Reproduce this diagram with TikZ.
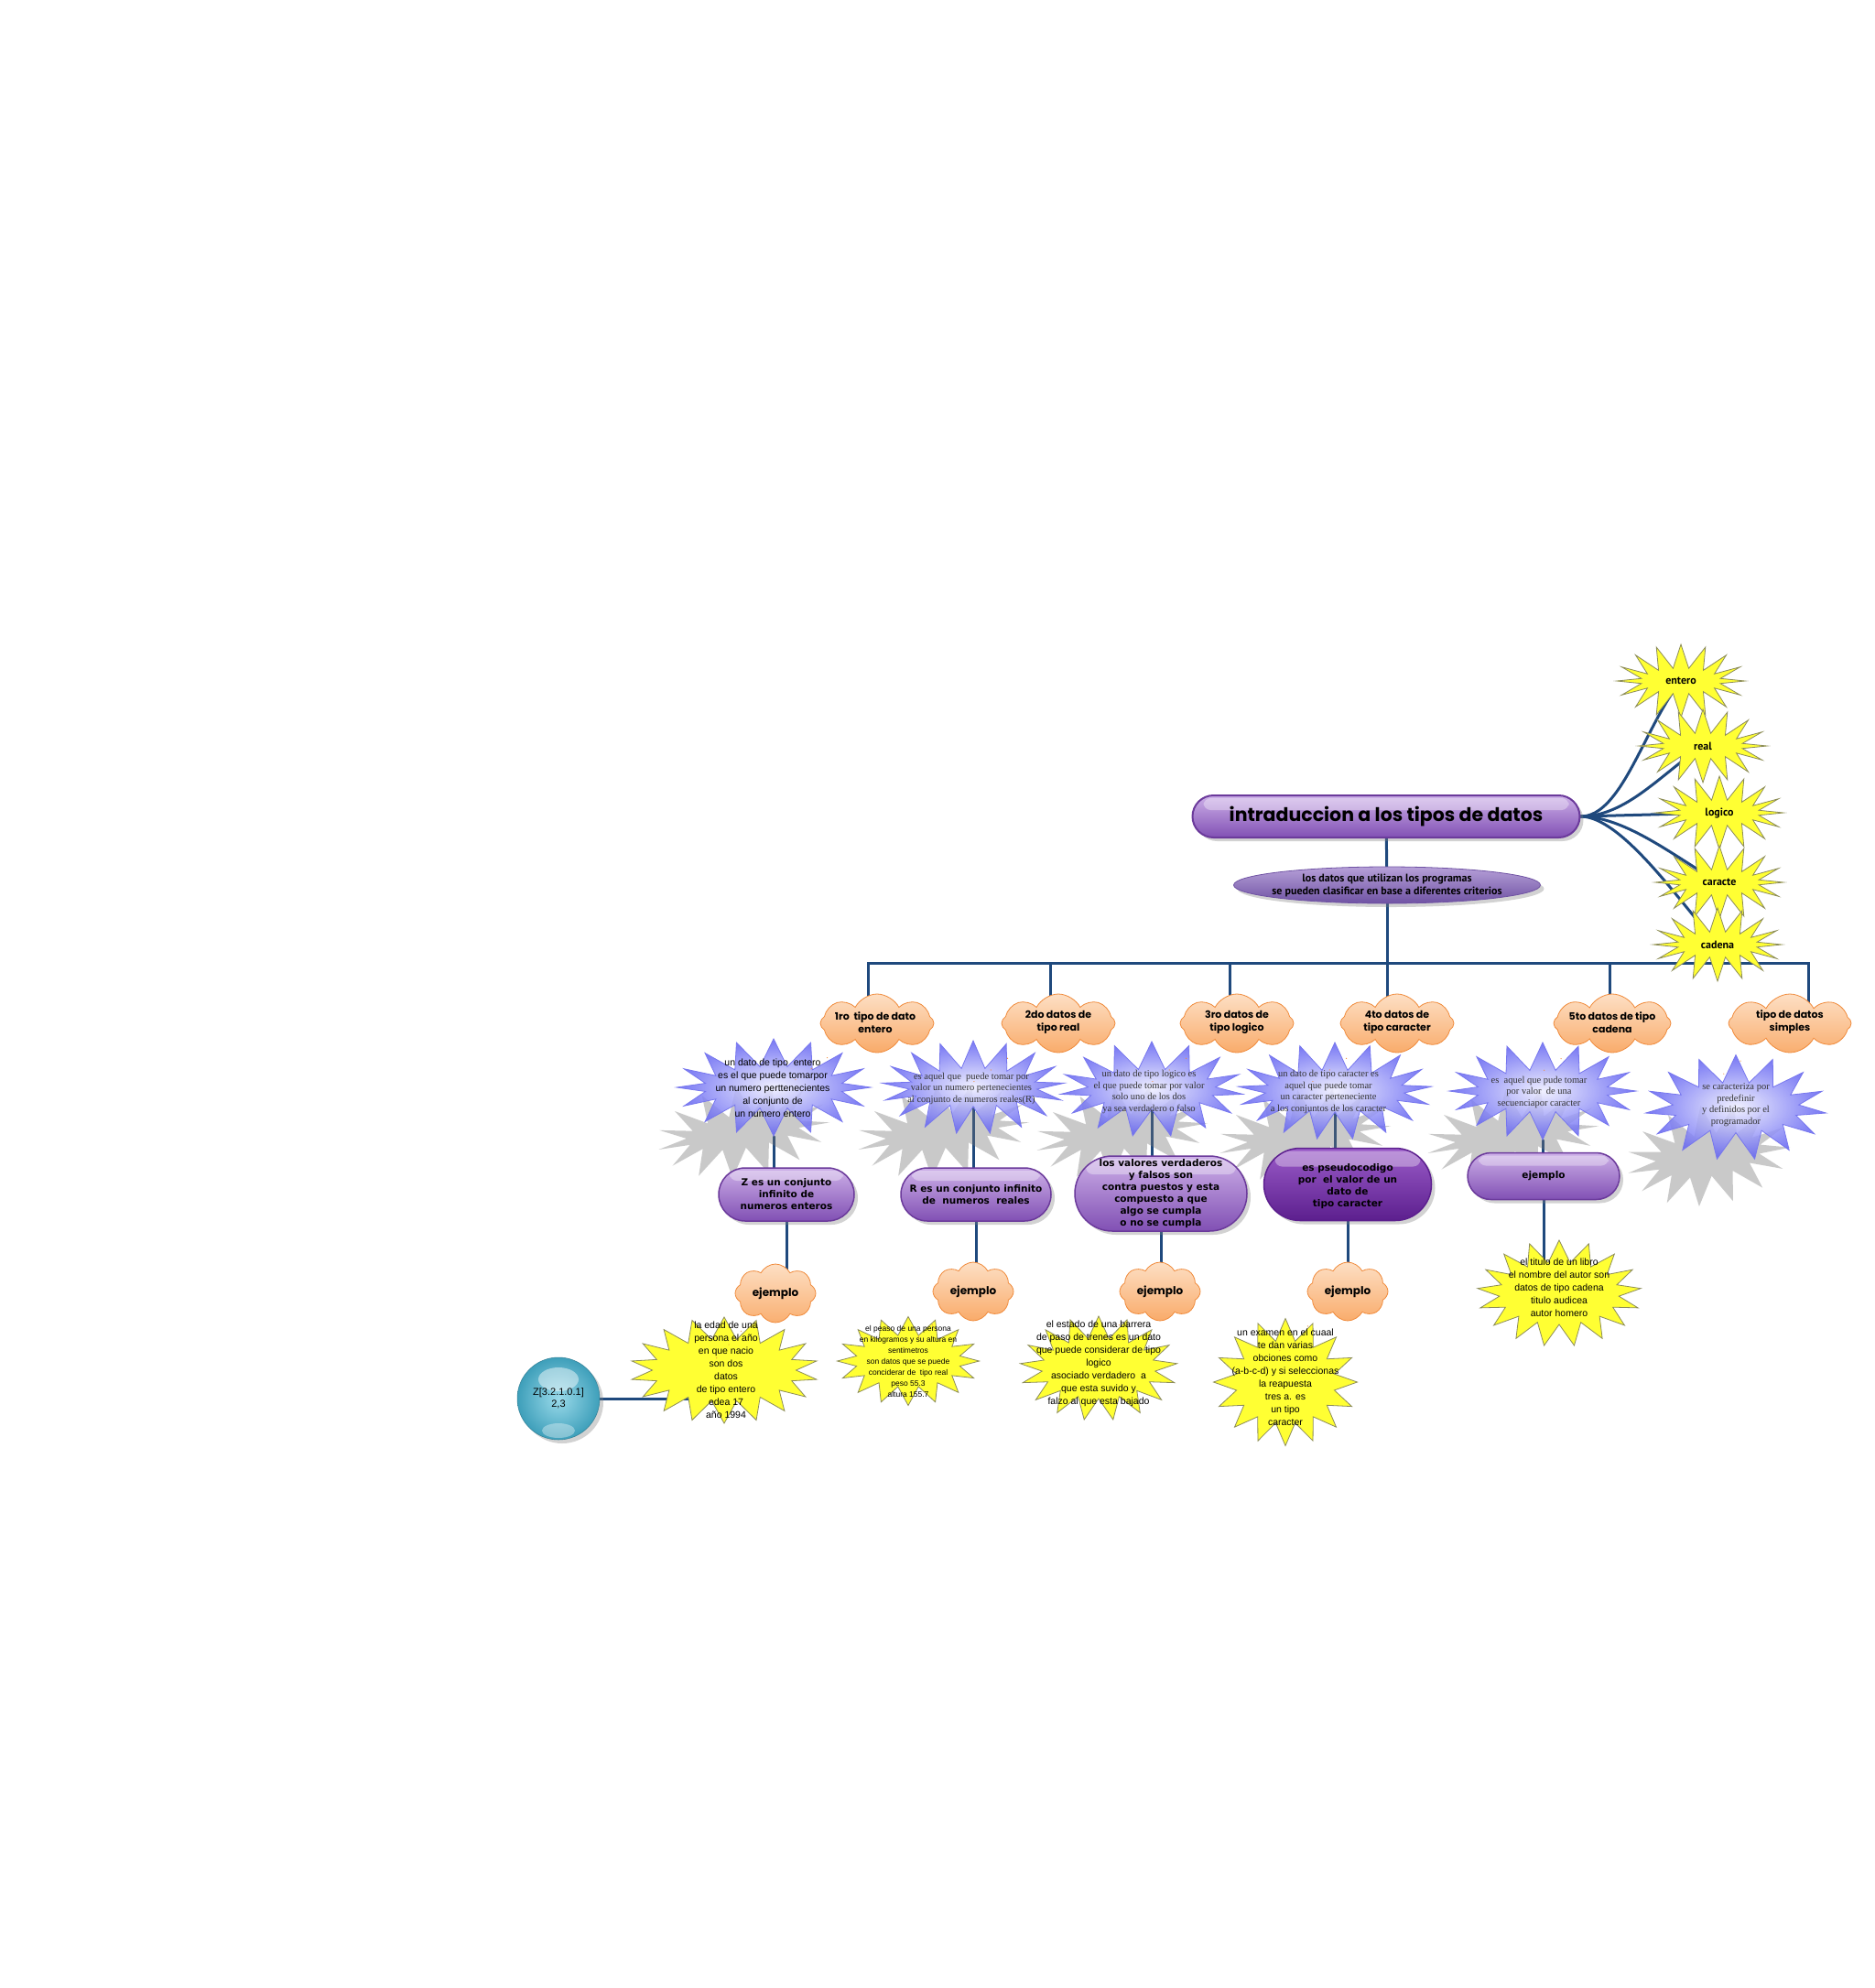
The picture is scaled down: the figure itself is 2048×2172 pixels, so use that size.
\documentclass[tikz,border=0pt]{standalone}
\usepackage{fontspec}
\newfontfamily\popf{Poppins}
\newfontfamily\dvf{DejaVu Sans}
\newfontfamily\ptf{PT Sans}
\newfontfamily\arf{Liberation Sans}
\newfontfamily\sef{Liberation Serif}
\usetikzlibrary{shapes.symbols,shapes.callouts,shapes.misc,shapes.geometric,shadows,backgrounds}
\definecolor{linkc}{HTML}{1F497D}
\definecolor{ystarc}{HTML}{FFFF33}
\definecolor{yborder}{HTML}{8C8C5A}
\definecolor{ctop}{HTML}{FDDFC4}
\definecolor{cbot}{HTML}{F7923F}
\definecolor{cborder}{HTML}{F08A3A}
\definecolor{bin}{HTML}{EEEEFF}
\definecolor{bout}{HTML}{5F5FF2}
\definecolor{bborder}{HTML}{7777EE}
\definecolor{ptop}{HTML}{CDB0E8}
\definecolor{pbot}{HTML}{8150B4}
\definecolor{pborder}{HTML}{6B3A9B}
\definecolor{pdtop}{HTML}{9B5CC9}
\definecolor{pdbot}{HTML}{5C1F8E}
\definecolor{etop}{HTML}{B6A0D8}
\definecolor{ebot}{HTML}{6F52A3}
\definecolor{sphin}{HTML}{9ADAEA}
\definecolor{sphout}{HTML}{3E9FBA}
\tikzset{
  link/.style={draw=linkc, line width=3pt, line cap=round},
  txt/.style={align=center, inner sep=0pt, text=black},
  gloss/.style={path picture={\fill[white,opacity=0.35,rounded corners=8pt]
     ([xshift=12pt,yshift=-3pt]path picture bounding box.north west) rectangle
     ([xshift=-12pt,yshift=-#1]path picture bounding box.north east);}},
  gloss/.default=14pt,
  myshadow/.style={drop shadow={opacity=0.35,shadow xshift=4pt,shadow yshift=-4pt}},
  titlebox/.style={rounded rectangle, minimum width=423pt, minimum height=46pt, inner sep=0pt,
     top color=ptop, bottom color=pbot, draw=pborder, line width=2pt, myshadow, gloss=16pt},
  pbox/.style={rounded rectangle, inner sep=0pt, top color=ptop, bottom color=pbot,
     draw=pborder, line width=1.5pt, myshadow, gloss},
  pdbox/.style={rounded rectangle, inner sep=0pt, top color=pdtop, bottom color=pdbot,
     draw=pdbot, line width=1.5pt, myshadow, gloss=20pt},
  ellbox/.style={ellipse, minimum width=335pt, minimum height=40pt, inner sep=0pt,
     top color=etop, bottom color=ebot, draw=ebot, line width=0.8pt, myshadow},
  ystar/.style={starburst, fill=ystarc, draw=yborder, line width=0.8pt, random starburst=0,
     starburst points=17, starburst point height=24pt, inner sep=0pt},
  rstar/.style={starburst, fill=ystarc, draw=yborder, line width=0.8pt, random starburst=0,
     starburst points=16, starburst point height=26pt, inner sep=0pt,
     minimum width=140pt, minimum height=80pt, font=\ptf\bfseries\fontsize{12}{14}\selectfont},
  bstar/.style={starburst, inner color=bin, outer color=bout, draw=bborder, line width=0.8pt,
     random starburst=0, starburst points=16, starburst point height=30pt, inner sep=0pt, fill opacity=0.85},
  bshad/.style={starburst, fill=black!55, fill opacity=0.38, draw=none, random starburst=0,
     starburst points=15, starburst point height=32pt, inner sep=0pt, rotate=9},
  ocloud/.style={cloud callout, cloud puffs=8, cloud puff arc=125, cloud ignores aspect,
     inner sep=0pt, top color=ctop, bottom color=cbot, draw=cborder, line width=0.8pt,
     callout pointer start size=.15, callout pointer end size=.07, callout pointer segments=3},
  ttitle/.style={txt, font=\popf\bfseries\fontsize{20.5}{24}\selectfont},
  tcloud/.style={txt, font=\popf\bfseries\fontsize{11}{14}\selectfont},
  tejem/.style={txt, font=\popf\bfseries\fontsize{12}{14}\selectfont},
  tbox/.style={txt, font=\dvf\bfseries\fontsize{10.5}{13}\selectfont},
  tell/.style={txt, font=\ptf\bfseries\fontsize{12}{14}\selectfont},
  tserif/.style={txt, text=black!80, font=\sef\fontsize{10.5}{12.5}\selectfont},
  tsans/.style={txt, font=\arf\fontsize{10.5}{14}\selectfont},
  tyel/.style={txt, font=\arf\fontsize{10.5}{14}\selectfont},
}
\begin{document}
\begin{tikzpicture}[x=1pt,y=-1pt]
\begin{scope}[on background layer]
  \fill[white] (0,0) rectangle (2048,2172);
\end{scope}
\useasboundingbox (0,0) rectangle (2048,2172);

% right stars
\node[rstar] (s1) at (1836,744) {entero};
\node[rstar] (s2) at (1860,815) {real};
\node[rstar] (s3) at (1878,888) {logico};
\node[rstar] (s4) at (1878,964) {caracte};
\node[rstar] (s5) at (1876,1032) {cadena};

% title and subtitle
\node[titlebox] (title) at (1514,892) {};
\node[ttitle] (titlet) at (title) {intraduccion a los tipos de datos};
\node[ellbox] (ell) at (1515,967) {};
\node[tell] (ellt) at (ell) {los datos que utilizan los programas\\se pueden clasificar en base a diferentes criterios};
\coordinate (bus) at (1515,1052);

% blue star shadows
\node[bshad, minimum width=190pt, minimum height=100pt] (b1s) at (812,1236) {};
\node[bshad, minimum width=190pt, minimum height=100pt] (b2s) at (1030,1236) {};
\node[bshad, minimum width=190pt, minimum height=100pt] (b3s) at (1225,1237) {};
\node[bshad, minimum width=190pt, minimum height=100pt] (b4s) at (1425,1240) {};
\node[bshad, minimum width=190pt, minimum height=100pt] (b5s) at (1652,1240) {};
\node[bshad, minimum width=180pt, minimum height=110pt] (b6s) at (1866,1262) {};

% blue stars
\node[bstar, minimum width=212pt, minimum height=106pt] (b1) at (845,1188) {};
\node[bstar, minimum width=200pt, minimum height=102pt, starburst points=17] (b2) at (1063,1188) {};
\node[bstar, minimum width=200pt, minimum height=104pt, starburst points=15] (b3) at (1258,1190) {};
\node[bstar, minimum width=212pt, minimum height=106pt, starburst points=17] (b4) at (1458,1192) {};
\node[bstar, minimum width=204pt, minimum height=106pt] (b5) at (1685,1192) {};
\node[bstar, minimum width=198pt, minimum height=115pt, starburst points=15] (b6) at (1896,1210) {};

% purple boxes
\node[pbox, minimum width=148pt, minimum height=58pt] (p1) at (859,1305) {};
\node[pbox, minimum width=164pt, minimum height=58pt] (p2) at (1066,1305) {};
\node[pbox, minimum width=188pt, minimum height=82pt, gloss=20pt] (p3) at (1268,1304) {};
\node[pdbox, minimum width=183pt, minimum height=79pt] (p4) at (1472,1294) {};
\node[pbox, minimum width=166pt, minimum height=51pt] (p5) at (1686,1285) {};

% top clouds
\node[ocloud, minimum width=124pt, minimum height=64pt, callout relative pointer={(-52pt,-36pt)}] (c1) at (958,1118) {};
\node[ocloud, minimum width=124pt, minimum height=64pt, callout relative pointer={(-55pt,-38pt)}] (c2) at (1156,1118) {};
\node[ocloud, minimum width=124pt, minimum height=64pt, callout relative pointer={(-55pt,-38pt)}] (c3) at (1351,1118) {};
\node[ocloud, minimum width=124pt, minimum height=64pt, callout relative pointer={(-55pt,-38pt)}] (c4) at (1526,1118) {};
\node[ocloud, minimum width=128pt, minimum height=64pt, callout relative pointer={(-55pt,-38pt)}] (c5) at (1761,1118) {};
\node[ocloud, minimum width=134pt, minimum height=64pt, callout relative pointer={(-55pt,-42pt)}] (c6) at (1955,1118) {};

% yellow example stars
\node[ystar, minimum width=205pt, minimum height=116pt, starburst points=18] (y1) at (791,1497) {};
\node[ystar, minimum width=155pt, minimum height=97pt, starburst point height=20pt, starburst points=16] (y2) at (992,1487) {};
\node[ystar, minimum width=172pt, minimum height=114pt] (y3) at (1200,1495) {};
\node[ystar, minimum width=157pt, minimum height=139pt, starburst points=16] (y4) at (1404,1510) {};
\node[ystar, minimum width=179pt, minimum height=116pt] (y5) at (1703,1413) {};

% ejemplo clouds
\node[ocloud, minimum width=88pt, minimum height=64pt, callout relative pointer={(-40pt,-44pt)}] (e1) at (847,1413) {};
\node[ocloud, minimum width=88pt, minimum height=64pt, callout relative pointer={(-46pt,-38pt)}] (e2) at (1063,1411) {};
\node[ocloud, minimum width=88pt, minimum height=64pt, callout relative pointer={(-46pt,-38pt)}] (e3) at (1267,1411) {};
\node[ocloud, minimum width=88pt, minimum height=64pt, callout relative pointer={(-46pt,-40pt)}] (e4) at (1472,1411) {};

% sphere
\node[circle, inner color=sphin, outer color=sphout, draw=sphout!80!black, line width=0.5pt,
      minimum size=90pt, inner sep=0pt, myshadow, align=center,
      path picture={\fill[white,opacity=0.45] ([yshift=-24pt]path picture bounding box.north) ellipse (22pt and 13pt);
                    \fill[white,opacity=0.35] ([yshift=10pt]path picture bounding box.south) ellipse (18pt and 8pt);},
      font=\arf\fontsize{11}{13}\selectfont] (sph) at (610,1528) {Z[3.2.1.0.1]\\2,3};

% texts
\node[tcloud] (c1t) at (956,1117) {1ro\ \ tipo de dato\\entero};
\node[tcloud] (c2t) at (1156,1117) {2do datos de\\tipo real};
\node[tcloud] (c3t) at (1351,1117) {3ro datos de\\tipo logico};
\node[tcloud] (c4t) at (1526,1117) {4to datos de\\tipo caracter};
\node[tcloud] (c5t) at (1761,1117) {5to datos de tipo\\cadena};
\node[tcloud] (c6t) at (1955,1117) {tipo de datos\\simples};

\node[tsans] (b1t) at (844,1189) {un dato de tipo\ \ entero\\es el que puede tomarpor\\un numero perttenecientes\\al conjunto de\\un numero entero};
\node[tserif] (b2t) at (1061,1189) {es aquel que\ \ puede tomar por\\valor un numero pertenecientes\\al conjunto de numeros reales(R)};
\node[tserif] (b3t) at (1255,1193) {un dato de tipo logico es\\el que puede tomar por valor\\solo uno de los dos\\ya sea verdadero o falso};
\node[tserif] (b4t) at (1451,1193) {un dato de tipo caracter es\\aquel que puede tomar\\un caracter perteneciente\\a los conjuntos de los caracter};
\node[tserif] (b5t) at (1681,1193) {es\ \ aquel que pude tomar\\por valor\ \ de una\\secuenciapor caracter};
\node[tserif] (b6t) at (1896,1207) {se caracteriza por\\predefinir\\y definidos por el\\programador};

\node[tbox] (p1t) at (p1) {Z es un conjunto\\infinito de\\numeros enteros};
\node[tbox] (p2t) at (p2) {R es un conjunto infinito\\de\ \ numeros\ \ reales};
\node[tbox] (p3t) at (p3) {los valores verdaderos\\y falsos son\\contra puestos y esta\\compuesto a que\\algo se cumpla\\o no se cumpla};
\node[tbox] (p4t) at (1472,1296) {es pseudocodigo\\por\ \ el valor de un\\dato de\\tipo caracter};
\node[tbox] (p5t) at (p5) {ejemplo};

\node[tejem] (e1t) at (e1) {ejemplo};
\node[tejem] (e2t) at (e2) {ejemplo};
\node[tejem] (e3t) at (e3) {ejemplo};
\node[tejem] (e4t) at (e4) {ejemplo};

\node[tyel] (y1t) at (793,1497) {la edad de una\\persona el año\\en que nacio\\son dos\\datos\\de tipo entero\\edea 17\\año 1994};
\node[txt, font=\arf\fontsize{8.5}{12}\selectfont] (y2t) at (992,1487) {el peaso de una persona\\en kilogramos y su altura en\\sentimetros\\son datos que se puede\\conciderar de\ \ tipo real\\peso 55.3\\altura 155.7};
\node[tyel] (y3t) at (1200,1490) {el estado de una barrera\\de paso de trenes es un dato\\que puede considerar de tipo\\logico\\asociado verdadero\ \ a\\que esta suvido y\\falzo al que esta bajado};
\node[tyel] (y4t) at (1404,1505) {un examen en el cuaal\\te dan varias\\obciones como\\(a-b-c-d) y si seleccionas\\la reapuesta\\tres a. es\\un tipo\\caracter};
\node[tyel] (y5t) at (1703,1407) {el titulo de un libro\\el nombre del autor son\\datos de tipo cadena\\titulo audicea\\autor homero};

% connectors
\begin{scope}[on background layer]
  \draw[link] (title) -- (ell);
  \draw[link] (ell) -- (bus);
  \draw[link] (bus) -| ([xshift=-10pt]c1.center);
  \draw[link] (bus) -| ([xshift=-9pt]c2.center);
  \draw[link] (bus) -| ([xshift=-8pt]c3.center);
  \draw[link] (bus) -| ([xshift=-11pt]c4.center);
  \draw[link] (bus) -| ([xshift=-3pt]c5.center);
  \draw[link] (bus) -| ([xshift=20pt]c6.center);
  \draw[link] (title.east) .. controls +(45,0) and +(-40,50) .. (s1.center);
  \draw[link] (title.east) .. controls +(50,0) and +(-45,30) .. (s2.center);
  \draw[link] (title.east) -- (s3.center);
  \draw[link] (title.east) .. controls +(50,0) and +(-45,-25) .. (s4.center);
  \draw[link] (title.east) .. controls +(45,0) and +(-40,-45) .. (s5.center);
  \draw[link] (b1) -- (b1 |- p1);
  \draw[link] (b2) -- (b2 |- p2);
  \draw[link] (b3) -- (b3 |- p3);
  \draw[link] (b4) -- (b4 |- p4);
  \draw[link] (b5) -- (b5 |- p5);
  \draw[link] (p1) -- (p1 |- e1);
  \draw[link] (p2) -- (p2 |- e2);
  \draw[link] (p3) -- (p3 |- e3);
  \draw[link] (p4) -- (p4 |- e4);
  \draw[link] (p5) -- (p5 |- y5);
  \draw[link] (sph) -- (sph -| y1);
\end{scope}
\end{tikzpicture}
\end{document}
